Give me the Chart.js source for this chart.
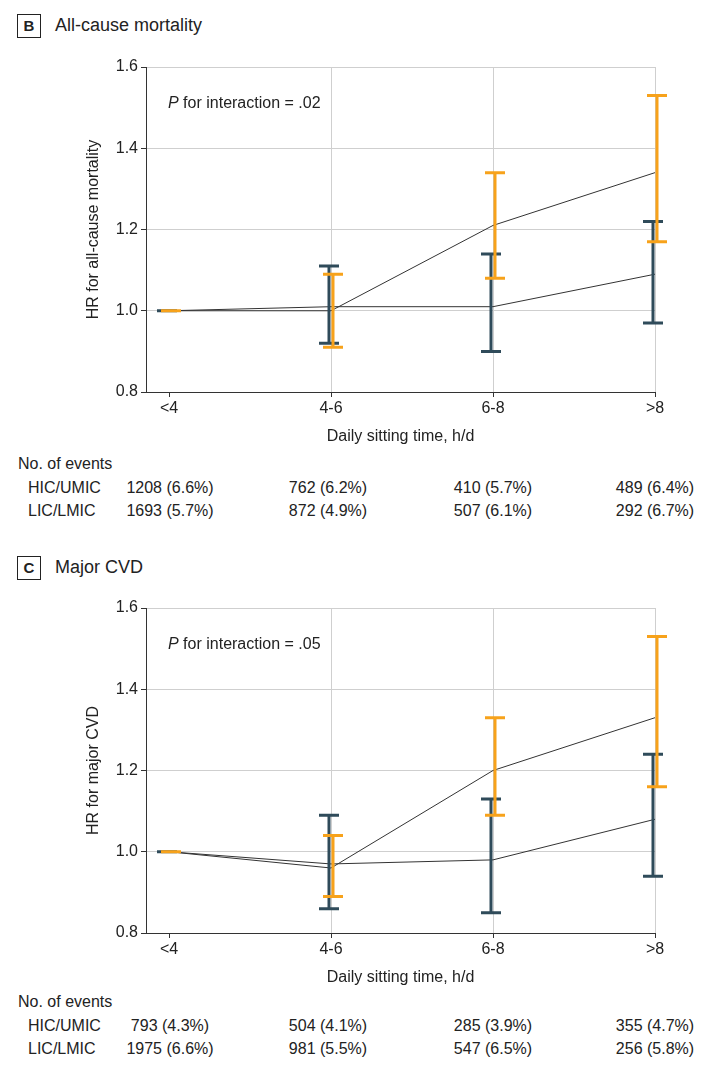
<!DOCTYPE html>
<html lang="en">
<head>
<meta charset="UTF-8">
<title>Sitting time HR</title>
<style>
  body { margin: 0; background: #fff; font-family: "Liberation Sans Narrow", "Arial Narrow", Arial, sans-serif; color: #222; }
  .page { position: relative; width: 717px; height: 1080px; }
  .box { position: absolute; width: 22px; height: 22px; border: 1.5px solid #222; font-weight: bold; font-size: 15px; text-align: center; line-height: 22px; }
  .ttl { position: absolute; font-size: 18px; }
  .t { position: absolute; font-size: 16px; white-space: nowrap; }
  canvas { position: absolute; left: 0; }
</style>
<script src="https://cdn.jsdelivr.net/npm/chart.js"></script>
</head>
<body>
<div class="page" id="page">
  <div class="box" style="left:17px;top:14px">B</div>
  <div class="ttl" style="left:55px;top:15px">All-cause mortality</div>
  <canvas id="chartB" width="717" height="400" style="top:50px"></canvas>
  <div class="t" style="left:168px;top:94px"><i>P</i> for interaction = .02</div>

  <div class="box" style="left:17px;top:556px">C</div>
  <div class="ttl" style="left:55px;top:557px">Major CVD</div>
  <canvas id="chartC" width="717" height="400" style="top:591px"></canvas>
  <div class="t" style="left:168px;top:635px"><i>P</i> for interaction = .05</div>
</div>
<script>
// categories
const categories = ['<4', '4-6', '6-8', '>8'];
const yTicks = [0.8, 1.0, 1.2, 1.4, 1.6];

// Panel B: all-cause mortality
const bHicHR = [1.00, 1.01, 1.01, 1.09];
const bHicLo = [1.00, 0.92, 0.90, 0.97];
const bHicHi = [1.00, 1.11, 1.14, 1.22];
const bLicHR = [1.00, 1.00, 1.21, 1.34];
const bLicLo = [1.00, 0.91, 1.08, 1.17];
const bLicHi = [1.00, 1.09, 1.34, 1.53];
const bHicEvents = ['1208 (6.6%)', '762 (6.2%)', '410 (5.7%)', '489 (6.4%)'];
const bLicEvents = ['1693 (5.7%)', '872 (4.9%)', '507 (6.1%)', '292 (6.7%)'];

// Panel C: major CVD
const cHicHR = [1.00, 0.97, 0.98, 1.08];
const cHicLo = [1.00, 0.86, 0.85, 0.94];
const cHicHi = [1.00, 1.09, 1.13, 1.24];
const cLicHR = [1.00, 0.96, 1.20, 1.33];
const cLicLo = [1.00, 0.89, 1.09, 1.16];
const cLicHi = [1.00, 1.04, 1.33, 1.53];
const cHicEvents = ['793 (4.3%)', '504 (4.1%)', '285 (3.9%)', '355 (4.7%)'];
const cLicEvents = ['1975 (6.6%)', '981 (5.5%)', '547 (6.5%)', '256 (5.8%)'];

const teal = '#2f4b5a';
const orange = '#f7a21b';
const FONT = '"Liberation Sans Narrow", "Arial Narrow", Arial, sans-serif';

const errorBars = {
  id: 'errorBars',
  afterDatasetsDraw(chart) {
    const ctx = chart.ctx, x = chart.scales.x, y = chart.scales.y;
    chart.data.datasets.forEach(ds => {
      if (!ds.lo) return;
      ctx.save();
      ctx.strokeStyle = ds.barColor;
      ctx.lineWidth = 3;
      ds.lo.forEach((lo, i) => {
        const hi = ds.hi[i];
        const px = x.getPixelForValue(i) + (ds.shift || 0);
        const y1 = y.getPixelForValue(lo), y2 = y.getPixelForValue(hi);
        ctx.beginPath();
        if (lo !== hi) { ctx.moveTo(px, y1); ctx.lineTo(px, y2); }
        ctx.moveTo(px - 10, y1); ctx.lineTo(px + 10, y1);
        ctx.moveTo(px - 10, y2); ctx.lineTo(px + 10, y2);
        ctx.stroke();
      });
      ctx.restore();
    });
  }
};

const toPts = arr => arr.map((v, i) => ({ x: i, y: v }));

function makeChart(id, yTitle, hic, hicLo, hicHi, lic, licLo, licHi) {
  return new Chart(document.getElementById(id), {
    type: 'line',
    data: {
      datasets: [
        { data: toPts(hic), lo: hicLo, hi: hicHi, barColor: teal, shift: -2, borderColor: '#333', borderWidth: 1, pointRadius: 0, tension: 0 },
        { data: toPts(lic), lo: licLo, hi: licHi, barColor: orange, shift: 2, borderColor: '#333', borderWidth: 1, pointRadius: 0, tension: 0 }
      ]
    },
    options: {
      responsive: false,
      animation: false,
      layout: { padding: { top: 17, right: 62, left: 80, bottom: 0 } },
      plugins: { legend: { display: false }, tooltip: { enabled: false } },
      scales: {
        x: {
          type: 'linear',
          min: -0.142, max: 3,
          afterBuildTicks(s) { s.ticks = categories.map((c, i) => ({ value: i })); },
          grid: { color: c => c.tick && c.tick.value === 0 ? 'rgba(0,0,0,0)' : '#cfcfcf', tickLength: 5, tickColor: '#333' },
          border: { color: '#333' },
          ticks: { color: '#222', font: { family: FONT, size: 16 }, padding: 2, maxRotation: 0, callback: v => categories[v] },
          title: { display: true, text: 'Daily sitting time, h/d', color: '#222', font: { family: FONT, size: 16 }, padding: { top: 2 } },
          afterFit(s) { s.height = 58; }
        },
        y: {
          min: 0.8, max: 1.6,
          afterBuildTicks(s) { s.ticks = yTicks.map(v => ({ value: v })); },
          grid: { color: '#cfcfcf', tickLength: 5, tickColor: '#333' },
          border: { color: '#333' },
          ticks: { color: '#222', font: { family: FONT, size: 16 }, callback: v => v.toFixed(1) },
          title: { display: true, text: yTitle, color: '#222', font: { family: FONT, size: 16 } },
          afterFit(s) { s.width = 66; }
        }
      }
    },
    plugins: [errorBars]
  });
}

makeChart('chartB', 'HR for all-cause mortality', bHicHR, bHicLo, bHicHi, bLicHR, bLicLo, bLicHi);
makeChart('chartC', 'HR for major CVD', cHicHR, cHicLo, cHicHi, cLicHR, cLicLo, cLicHi);

// event tables
const colCenters = [170, 328, 493, 655];
function addText(txt, left, top, center) {
  const d = document.createElement('div');
  d.className = 't';
  d.textContent = txt;
  d.style.top = top + 'px';
  d.style.left = left + 'px';
  if (center) d.style.transform = 'translateX(-50%)';
  document.getElementById('page').appendChild(d);
}
function addTable(top, hicRow, licRow) {
  addText('No. of events', 18, top);
  addText('HIC/UMIC', 28, top + 24);
  addText('LIC/LMIC', 28, top + 47);
  hicRow.forEach((t, i) => addText(t, colCenters[i], top + 24, true));
  licRow.forEach((t, i) => addText(t, colCenters[i], top + 47, true));
}
addTable(455, bHicEvents, bLicEvents);
addTable(993, cHicEvents, cLicEvents);
</script>
</body>
</html>
